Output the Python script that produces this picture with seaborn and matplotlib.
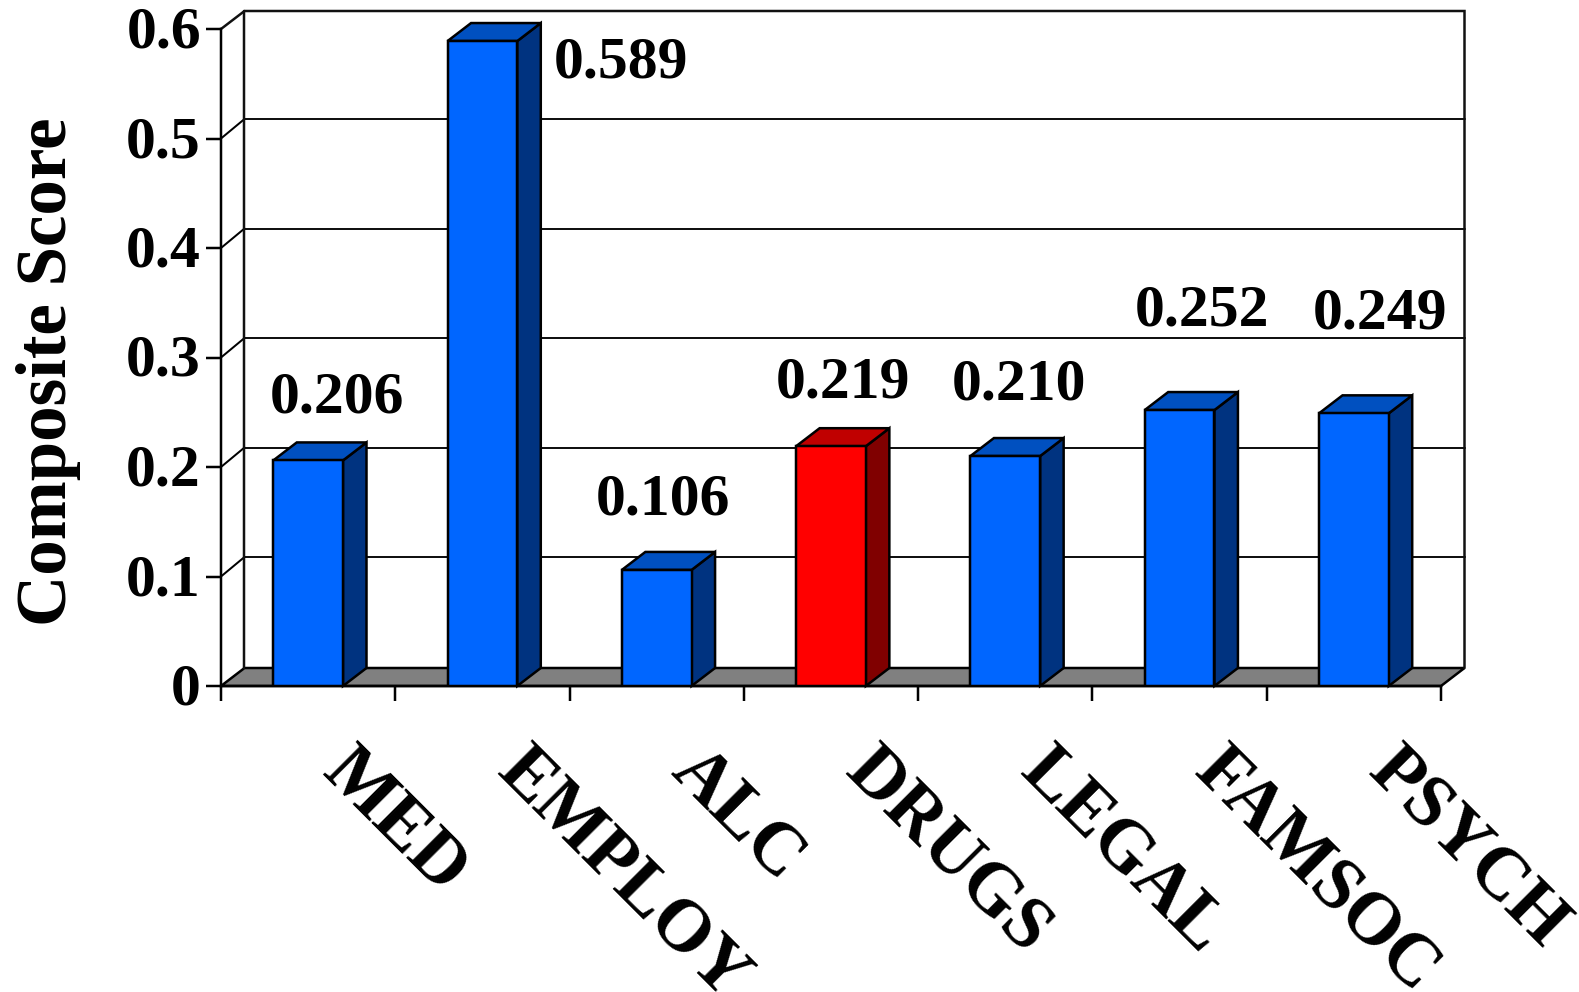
import matplotlib
matplotlib.use("Agg")
import matplotlib.pyplot as plt
from matplotlib.patches import Polygon
from matplotlib.transforms import ScaledTranslation
import numpy as np
import pandas as pd
import seaborn as sns

# values
categories = ["MED", "EMPLOY", "ALC", "DRUGS", "LEGAL", "FAMSOC", "PSYCH"]
scores = [0.206, 0.589, 0.106, 0.219, 0.210, 0.252, 0.249]
y_ticks = [0, 0.1, 0.2, 0.3, 0.4, 0.5, 0.6]
y_tick_labels = ["0", "0.1", "0.2", "0.3", "0.4", "0.5", "0.6"]

front_colors = ["#0066FF", "#0066FF", "#0066FF", "#FF0000", "#0066FF", "#0066FF", "#0066FF"]
side_colors = ["#003380", "#003380", "#003380", "#800000", "#003380", "#003380", "#003380"]
top_colors = ["#0050C0", "#0050C0", "#0050C0", "#C00000", "#0050C0", "#0050C0", "#0050C0"]

# where each value label sits relative to the top of its bar, in pixels
label_dx = [29, 139, 6, 12, 14, 22, 26]
label_dy = [62, -22, 69, 63, 71, 99, 99]

W, H = 1579, 992
sns.set_style("white")
plt.rcParams["font.family"] = ["Liberation Serif", "DejaVu Serif"]
plt.rcParams["font.weight"] = "bold"
plt.rcParams["text.color"] = "black"
plt.rcParams["xtick.color"] = "black"
plt.rcParams["ytick.color"] = "black"

fig = plt.figure(figsize=(W / 100, H / 100), dpi=100)
left, right, bottom, top = 221, 1441, 686, 29
ax = fig.add_axes([left / W, 1 - bottom / H, (right - left) / W, (bottom - top) / H])
px = 0.72  # points per pixel at this dpi
edge = 2.5 * px

df = pd.DataFrame({"category": categories, "score": scores})
sns.barplot(data=df, x="category", y="score", hue="category", palette=front_colors,
            width=0.4, saturation=1, edgecolor="black", linewidth=edge,
            legend=False, ax=ax, zorder=5)
ax.set_xlim(-0.5, 6.5)
ax.set_ylim(0, 0.6)
ax.patch.set_alpha(0)

# depth of the fake 3d box, in data units
depth_x = 23.5 * 7 / (right - left)
depth_y = 18 * 0.6 / (bottom - top)
grid_depth = 19.5 * 0.6 / (bottom - top)

x0, x1 = -0.5, 6.5
ax.add_patch(Polygon([(x0, 0), (x1, 0), (x1 + depth_x, depth_y), (x0 + depth_x, depth_y)],
                     facecolor="#808080", edgecolor="black", lw=edge, clip_on=False, zorder=1))
for y in y_ticks[1:-1]:
    ax.plot([x0 + depth_x, x1 + depth_x], [y + grid_depth, y + grid_depth], color="#111111",
            lw=2 * px, clip_on=False, zorder=1)
    ax.plot([x0, x0 + depth_x], [y, y + grid_depth], color="black", lw=2 * px, clip_on=False, zorder=1)
# top edge of the back wall and the left slant up to it
ax.plot([x0, x0 + depth_x, x1 + depth_x, x1 + depth_x], [0.6, 0.6 + depth_y, 0.6 + depth_y, depth_y],
        color="#111111", lw=edge, clip_on=False, zorder=1, solid_joinstyle="miter")
ax.plot([x0 + depth_x] * 2, [depth_y, 0.6 + depth_y], color="#111111", lw=edge, clip_on=False, zorder=1)

# side and top faces, built from the bars seaborn drew
for i, bar in enumerate(ax.patches[:len(categories)]):
    xa, xb, h = bar.get_x(), bar.get_x() + bar.get_width(), bar.get_height()
    ax.add_patch(Polygon([(xb, 0), (xb + depth_x, depth_y), (xb + depth_x, h + depth_y), (xb, h)],
                         facecolor=side_colors[i], edgecolor="black", lw=edge, clip_on=False, zorder=4))
    ax.add_patch(Polygon([(xa, h), (xb, h), (xb + depth_x, h + depth_y), (xa + depth_x, h + depth_y)],
                         facecolor=top_colors[i], edgecolor="black", lw=edge, clip_on=False, zorder=4))
    ax.annotate(f"{scores[i]:.3f}", xy=(xa + bar.get_width() / 2, h),
                xytext=(label_dx[i] * px, label_dy[i] * px), textcoords="offset points",
                ha="center", va="center", fontsize=43, fontweight="bold", zorder=6)

sns.despine(ax=ax, top=True, right=True)
for side in ["left", "bottom"]:
    ax.spines[side].set_linewidth(edge)
    ax.spines[side].set_color("black")
    ax.spines[side].set_zorder(3)

ax.set_yticks(y_ticks)
ax.set_yticklabels(y_tick_labels, fontsize=43, fontweight="bold")
ax.tick_params(axis="y", left=True, length=15 * px, width=edge, pad=5 * px, color="black")
up = ScaledTranslation(0, 2 / 100, fig.dpi_scale_trans)
for lab in ax.get_yticklabels():
    lab.set_transform(lab.get_transform() + up)

# ticks between categories, labels at the categories
ax.set_xticks(np.arange(len(categories) + 1) - 0.5, minor=True)
ax.set_xticks(np.arange(len(categories)))
ax.tick_params(axis="x", which="minor", bottom=True, length=15 * px, width=edge, color="black")
ax.tick_params(axis="x", which="major", bottom=False, length=0, pad=75 * px)
ax.set_xticklabels(categories, fontsize=53, fontweight="bold", rotation=-45,
                   ha="left", va="center", rotation_mode="anchor")
shift = ScaledTranslation(25 / 100, 0, fig.dpi_scale_trans)
for lab in ax.get_xticklabels():
    lab.set_transform(lab.get_transform() + shift)

ax.set_xlabel("")
ax.set_ylabel("")
fig.text(49 / W, 1 - 372 / H, "Composite Score", rotation=90, ha="center", va="center",
         fontsize=51, fontweight="bold")

fig.savefig("out.png", dpi=100)
